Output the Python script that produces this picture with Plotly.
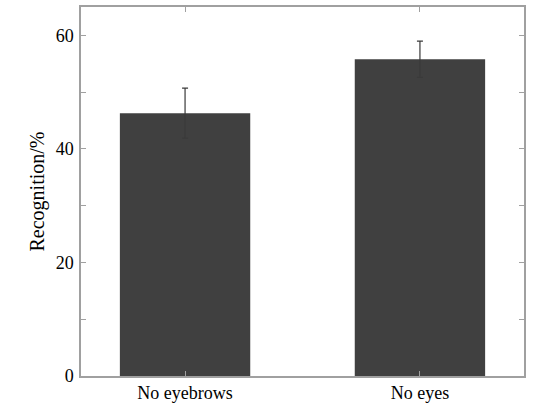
import plotly.graph_objects as go

conditions = ["No eyebrows", "No eyes"]
recognition = [46.3, 55.8]
error_margin = [4.4, 3.2]

BAR_COLOR = "#404040"
AXIS_COLOR = "#a0a0a0"
FONT = "Liberation Serif, Times New Roman, serif"

fig = go.Figure()
fig.add_trace(
    go.Bar(
        x=conditions,
        y=recognition,
        width=0.555,
        marker={"color": BAR_COLOR, "line": {"width": 0}},
        error_y={
            "type": "data",
            "array": error_margin,
            "visible": True,
            "color": "#3a3a3a",
            "thickness": 1.2,
            "width": 3,
        },
    )
)

fig.update_xaxes(
    range=[-0.443, 1.443],
    showline=True,
    linecolor=AXIS_COLOR,
    linewidth=1.5,
    mirror="ticks",
    ticks="inside",
    ticklen=5,
    tickcolor=AXIS_COLOR,
    showgrid=False,
    tickfont={"size": 18, "color": "black"},
)
fig.update_yaxes(
    range=[0, 65],
    tickvals=[0, 20, 40, 60],
    showline=True,
    linecolor=AXIS_COLOR,
    linewidth=1.5,
    mirror="ticks",
    ticks="inside",
    ticklen=5,
    tickcolor=AXIS_COLOR,
    minor={"tickvals": [10, 30, 50], "ticks": "inside", "ticklen": 5, "tickcolor": AXIS_COLOR},
    showgrid=False,
    zeroline=False,
    ticklabelstandoff=2,
    title={"text": "Recognition/%", "standoff": 6, "font": {"size": 20}},
    tickfont={"size": 18, "color": "black"},
)
fig.update_layout(
    width=535,
    height=409,
    margin={"l": 81, "r": 11, "t": 5, "b": 33},
    plot_bgcolor="white",
    paper_bgcolor="white",
    font={"family": FONT, "color": "black"},
    showlegend=False,
)

# drop the default page margin so the figure sits at the window corner
fig.write_html(
    "out.html",
    config={"displayModeBar": False},
    post_script="document.body.style.margin='0';",
)
